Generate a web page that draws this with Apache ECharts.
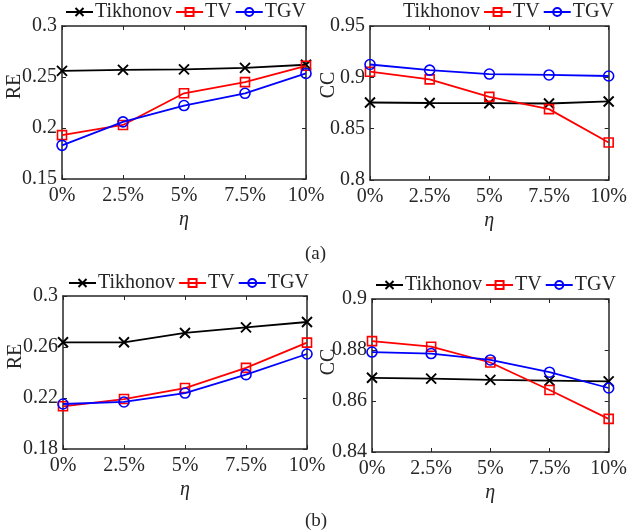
<!DOCTYPE html>
<html>
<head>
<meta charset="utf-8">
<script src="https://cdn.jsdelivr.net/npm/echarts@6/dist/echarts.min.js"></script>
<style>html,body{margin:0;padding:0;background:#fff}#c{width:630px;height:532px}</style>
</head>
<body>
<div id="c"></div>
<script>
// ---- data ----
const etaLabels = ['0%', '2.5%', '5%', '7.5%', '10%'];
const seriesNames = ['Tikhonov', 'TV', 'TGV'];

const reA_tikhonov = [0.256, 0.257, 0.2575, 0.259, 0.262];
const reA_tv       = [0.193, 0.203, 0.234, 0.245, 0.261];
const reA_tgv      = [0.183, 0.206, 0.222, 0.234, 0.2535];

const ccA_tikhonov = [0.8755, 0.875, 0.8748, 0.8745, 0.8765];
const ccA_tv       = [0.9055, 0.898, 0.881, 0.869, 0.8365];
const ccA_tgv      = [0.9125, 0.907, 0.9032, 0.9023, 0.9013];

const reB_tikhonov = [0.2637, 0.2637, 0.271, 0.2754, 0.2796];
const reB_tv       = [0.2135, 0.2192, 0.2278, 0.2436, 0.2634];
const reB_tgv      = [0.2153, 0.2169, 0.2239, 0.2383, 0.2545];

const ccB_tikhonov = [0.8691, 0.8688, 0.8683, 0.868, 0.8677];
const ccB_tv       = [0.8835, 0.8813, 0.8751, 0.8643, 0.853];
const ccB_tgv      = [0.8792, 0.8786, 0.8761, 0.8713, 0.8651];

const reA_ticks = [0.15, 0.2, 0.25, 0.3];
const ccA_ticks = [0.8, 0.85, 0.9, 0.95];
const reB_ticks = [0.18, 0.22, 0.26, 0.3];
const ccB_ticks = [0.84, 0.86, 0.88, 0.9];

// ---- layout ----
const FONT = 'Liberation Serif, Times New Roman, serif';
const TXT = '#262626';
const panels = [
  { grid: {left: 62, top: 26, width: 244, height: 153}, yName: 'RE', nameGap: 37, namePad: 32, ticks: reA_ticks, data: [reA_tikhonov, reA_tv, reA_tgv], legend: {left: 65, top: 2}, hideFirstIcon: false },
  { grid: {left: 370, top: 26, width: 247, height: 154}, yName: 'CC', nameGap: 31, namePad: 36, ticks: ccA_ticks, data: [ccA_tikhonov, ccA_tv, ccA_tgv], legend: {left: 373, top: 2}, hideFirstIcon: true },
  { grid: {left: 63, top: 296, width: 244, height: 153}, yName: 'RE', nameGap: 37, namePad: 32, ticks: reB_ticks, data: [reB_tikhonov, reB_tv, reB_tgv], legend: {left: 68, top: 273}, hideFirstIcon: false },
  { grid: {left: 372, top: 299, width: 245, height: 153}, yName: 'CC', nameGap: 33, namePad: 27, ticks: ccB_ticks, data: [ccB_tikhonov, ccB_tv, ccB_tgv], legend: {left: 375, top: 275}, hideFirstIcon: false }
];

const styles = [
  { color: '#000000', symbol: 'path://M0,0L10,10M10,0L0,10', size: 10 },
  { color: '#ff0000', symbol: 'rect', size: 9 },
  { color: '#0000ff', symbol: 'circle', size: 10 }
];

const axisLine = { show: true, lineStyle: { color: TXT, width: 1.5 } };
const tickIn = { show: true, inside: true, length: 4, lineStyle: { color: TXT, width: 1 } };

const grid = [], xAxis = [], yAxis = [], series = [], legend = [];

panels.forEach((p, i) => {
  grid.push(Object.assign({ show: false, containLabel: false }, p.grid));
  const yMin = p.ticks[0], yMax = p.ticks[p.ticks.length - 1];
  const yInt = +(p.ticks[1] - p.ticks[0]).toFixed(6);
  // bottom x
  xAxis[i] = {
    type: 'category', gridIndex: i, data: etaLabels, boundaryGap: false, position: 'bottom',
    axisLine, axisTick: tickIn, splitLine: { show: false },
    axisLabel: { color: TXT, fontFamily: FONT, fontSize: 20, margin: 7 },
    name: 'η', nameLocation: 'middle', nameGap: 31, nameMoveOverlap: false,
    nameTextStyle: { color: TXT, fontFamily: FONT, fontSize: 20, fontStyle: 'italic' }
  };
  // top x (ticks only)
  xAxis[i + 4] = {
    type: 'category', gridIndex: i, data: etaLabels, boundaryGap: false, position: 'top',
    axisLine, axisTick: tickIn, axisLabel: { show: false }, splitLine: { show: false }
  };
  yAxis[i] = {
    type: 'value', gridIndex: i, min: yMin, max: yMax, interval: yInt, position: 'left',
    axisLine, axisTick: tickIn, splitLine: { show: false },
    axisLabel: { color: TXT, fontFamily: FONT, fontSize: 20, margin: 5 },
    name: p.yName, nameLocation: 'middle', nameGap: p.nameGap, nameMoveOverlap: false,
    nameTextStyle: { color: TXT, fontFamily: FONT, fontSize: 20, padding: [0, 0, 0, p.namePad] }
  };
  yAxis[i + 4] = {
    type: 'value', gridIndex: i, min: yMin, max: yMax, interval: yInt, position: 'right',
    axisLine, axisTick: tickIn, axisLabel: { show: false }, splitLine: { show: false }
  };
  seriesNames.forEach((name, k) => {
    const st = styles[k];
    series.push({
      type: 'line', name, xAxisIndex: i, yAxisIndex: i, data: p.data[k],
      symbol: st.symbol, symbolSize: st.size, showSymbol: true, clip: false,
      lineStyle: { color: st.color, width: 1.8 },
      itemStyle: { color: 'rgba(255,255,255,0)', borderColor: st.color, borderWidth: k === 0 ? 1.9 : 1.6 },
      emphasis: { disabled: true }, animation: false, z: 2 + k
    });
  });
  legend.push({
    left: p.legend.left, top: p.legend.top, orient: 'horizontal', padding: 0,
    itemWidth: 27, itemHeight: 10, itemGap: 3,
    textStyle: { color: TXT, fontFamily: FONT, fontSize: 20, padding: [0, 0, 0, -3] },
    selectedMode: false,
    data: seriesNames.map((n, k) => (k === 0 && p.hideFirstIcon)
      ? { name: n, itemStyle: { opacity: 0 }, lineStyle: { opacity: 0 } }
      : { name: n })
  });
});

const chart = echarts.init(document.getElementById('c'), null, { renderer: 'canvas' });
chart.setOption({
  backgroundColor: '#ffffff',
  animation: false,
  title: [
    { text: '(a)', left: 305, top: 245, textStyle: { color: TXT, fontFamily: FONT, fontSize: 19, fontWeight: 'normal' }, padding: 0 },
    { text: '(b)', left: 305, top: 512, textStyle: { color: TXT, fontFamily: FONT, fontSize: 19, fontWeight: 'normal' }, padding: 0 }
  ],
  grid, xAxis, yAxis, legend, series
});
</script>
</body>
</html>
